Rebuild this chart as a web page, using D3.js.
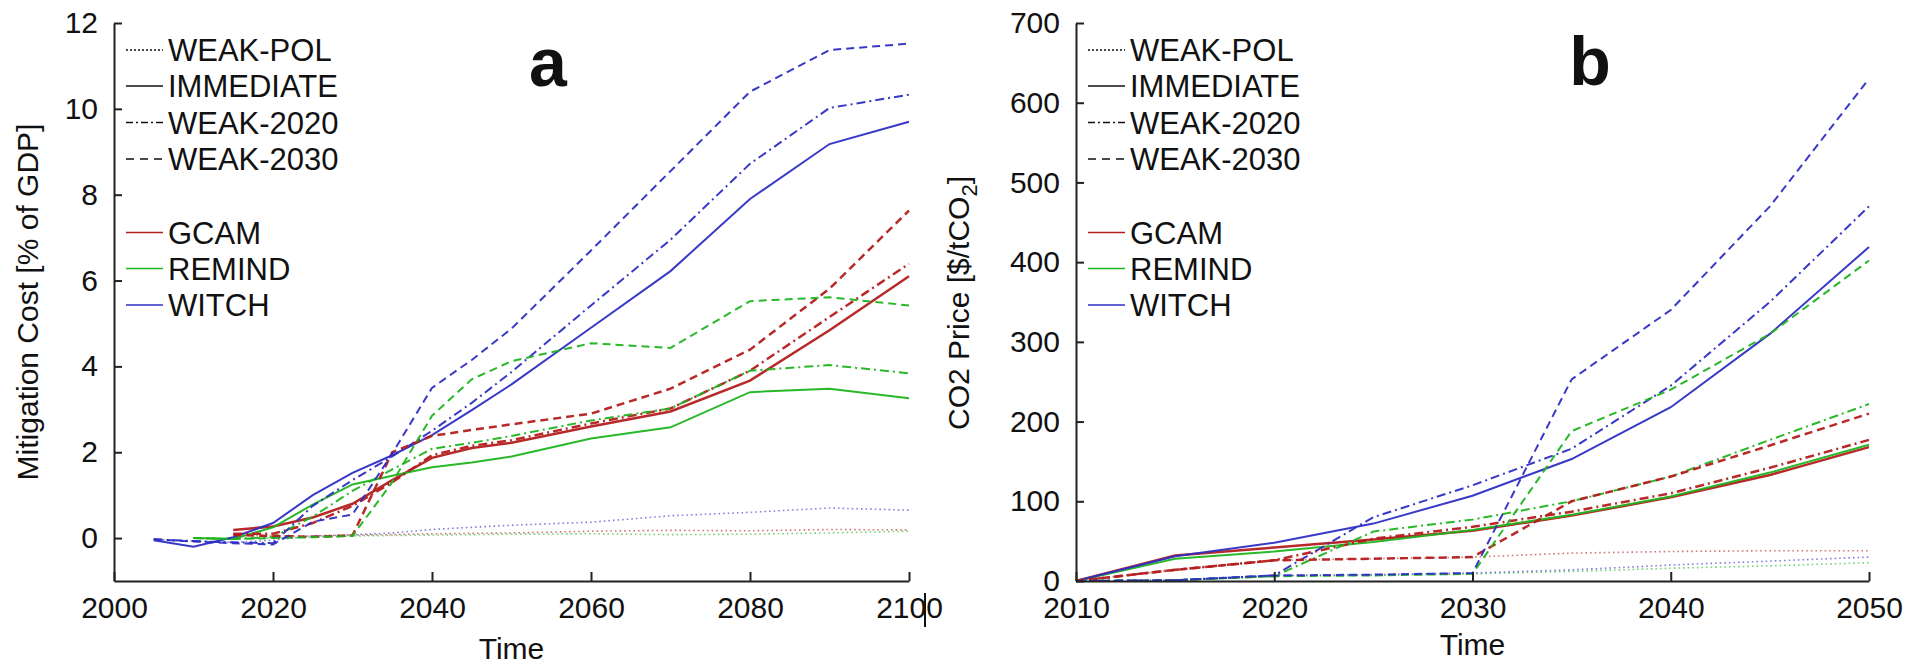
<!DOCTYPE html>
<html><head><meta charset="utf-8">
<script src="https://cdn.jsdelivr.net/npm/d3@7"></script>
<style>
body{margin:0;background:#fff}
svg{display:block}
text{font-family:"Liberation Sans",Arial,sans-serif;fill:#111}
</style>
</head><body>
<svg id="c" width="1907" height="666"></svg>
<script>
// ---------------- DATA ----------------
const models = ["GCAM", "REMIND", "WITCH"];
const scenarios = ["WEAK-POL", "IMMEDIATE", "WEAK-2020", "WEAK-2030"];

// Panel a: Mitigation cost [% of GDP]
const yearsA_WITCH  = [2005,2010,2015,2020,2025,2030,2035,2040,2045,2050,2060,2070,2080,2090,2100];
const yearsA_REMIND = [2010,2015,2020,2025,2030,2035,2040,2045,2050,2060,2070,2080,2090,2100];
const yearsA_GCAM   = [2015,2020,2025,2030,2035,2040,2045,2050,2060,2070,2080,2090,2100];

const costWITCH_WEAKPOL   = [-0.03,-0.07,-0.1,-0.05,0.05,0.08,0.12,0.2,0.25,0.3,0.37,0.52,0.6,0.7,0.65];
const costWITCH_IMMEDIATE = [-0.05,-0.2,0.02,0.35,1.0,1.52,1.93,2.4,2.98,3.58,4.9,6.22,7.9,9.18,9.7];
const costWITCH_WEAK2020  = [-0.03,-0.07,-0.1,-0.12,0.75,1.35,1.9,2.5,3.15,3.87,5.42,6.95,8.72,10.02,10.33];
const costWITCH_WEAK2030  = [-0.03,-0.08,-0.12,-0.15,0.38,0.55,1.97,3.5,4.15,4.88,6.7,8.55,10.4,11.37,11.52];

const costREMIND_WEAKPOL   = [0,-0.02,0.0,0.02,0.05,0.06,0.07,0.08,0.09,0.1,0.08,0.09,0.12,0.16];
const costREMIND_IMMEDIATE = [0,-0.02,0.25,0.78,1.25,1.45,1.65,1.76,1.9,2.32,2.58,3.4,3.48,3.26];
const costREMIND_WEAK2020  = [0,-0.02,0.02,0.5,1.1,1.6,2.08,2.22,2.38,2.74,3.02,3.9,4.03,3.84];
const costREMIND_WEAK2030  = [0,-0.02,0.0,0.02,0.05,1.3,2.85,3.7,4.12,4.54,4.43,5.52,5.61,5.42];

const costGCAM_WEAKPOL   = [0.07,0.05,0.05,0.07,0.08,0.1,0.11,0.12,0.16,0.18,0.17,0.2,0.19];
const costGCAM_IMMEDIATE = [0.19,0.27,0.48,0.8,1.35,1.87,2.1,2.22,2.6,2.95,3.67,4.84,6.1];
const costGCAM_WEAK2020  = [0.1,0.1,0.35,0.75,1.3,1.93,2.15,2.28,2.67,3.02,3.9,5.15,6.39];
const costGCAM_WEAK2030  = [0.07,0.05,0.03,0.06,2.0,2.38,2.52,2.65,2.9,3.48,4.39,5.81,7.63];

// Panel b: CO2 price [$/tCO2]
const yearsB = [2010,2015,2020,2025,2030,2035,2040,2045,2050];

const priceGCAM_WEAKPOL   = [0,14,26,28,30,35,37,38,38];
const priceGCAM_IMMEDIATE = [0,32,42,52,63,82,105,133,168];
const priceGCAM_WEAK2020  = [0,14,26,53,68,87,110,142,177];
const priceGCAM_WEAK2030  = [0,14,26,28,30,100,131,170,210];

const priceREMIND_WEAKPOL   = [0,1,6,7,9,12,16,19,23];
const priceREMIND_IMMEDIATE = [0,28,37,49,64,83,106,136,171];
const priceREMIND_WEAK2020  = [0,1,6,62,77,100,131,177,222];
const priceREMIND_WEAK2030  = [0,1,6,7,9,188,240,310,402];

const priceWITCH_WEAKPOL   = [0,1,7,8,10,14,20,25,30];
const priceWITCH_IMMEDIATE = [0,31,48,72,107,153,218,310,419];
const priceWITCH_WEAK2020  = [0,1,7,80,120,166,245,350,470];
const priceWITCH_WEAK2030  = [0,1,7,8,10,253,340,470,630];

// Ticks
const xTicksA = [2000,2020,2040,2060,2080,2100];
const yTicksA = [0,2,4,6,8,10,12];
const xTicksB = [2010,2020,2030,2040,2050];
const yTicksB = [0,100,200,300,400,500,600,700];

// ---------------- STYLE ----------------
const modelColor = {GCAM:"#b41e1e", REMIND:"#1eb41e", WITCH:"#2e2ec4"};
const dash = {"WEAK-POL":"1.6,3", "IMMEDIATE":null, "WEAK-2020":"9,4,2,4", "WEAK-2030":"8,5"};
const legendDash = {"WEAK-POL":"2,2", "IMMEDIATE":null, "WEAK-2020":"7,3,2,3", "WEAK-2030":"8,6"};

const seriesA = [
  {m:"GCAM", s:"WEAK-POL", yrs:yearsA_GCAM, v:costGCAM_WEAKPOL},
  {m:"REMIND", s:"WEAK-POL", yrs:yearsA_REMIND, v:costREMIND_WEAKPOL},
  {m:"WITCH", s:"WEAK-POL", yrs:yearsA_WITCH, v:costWITCH_WEAKPOL},
  {m:"GCAM", s:"IMMEDIATE", yrs:yearsA_GCAM, v:costGCAM_IMMEDIATE},
  {m:"REMIND", s:"IMMEDIATE", yrs:yearsA_REMIND, v:costREMIND_IMMEDIATE},
  {m:"WITCH", s:"IMMEDIATE", yrs:yearsA_WITCH, v:costWITCH_IMMEDIATE},
  {m:"GCAM", s:"WEAK-2020", yrs:yearsA_GCAM, v:costGCAM_WEAK2020},
  {m:"REMIND", s:"WEAK-2020", yrs:yearsA_REMIND, v:costREMIND_WEAK2020},
  {m:"WITCH", s:"WEAK-2020", yrs:yearsA_WITCH, v:costWITCH_WEAK2020},
  {m:"GCAM", s:"WEAK-2030", yrs:yearsA_GCAM, v:costGCAM_WEAK2030},
  {m:"REMIND", s:"WEAK-2030", yrs:yearsA_REMIND, v:costREMIND_WEAK2030},
  {m:"WITCH", s:"WEAK-2030", yrs:yearsA_WITCH, v:costWITCH_WEAK2030}
];
const seriesB = [
  {m:"GCAM", s:"WEAK-POL", yrs:yearsB, v:priceGCAM_WEAKPOL},
  {m:"REMIND", s:"WEAK-POL", yrs:yearsB, v:priceREMIND_WEAKPOL},
  {m:"WITCH", s:"WEAK-POL", yrs:yearsB, v:priceWITCH_WEAKPOL},
  {m:"GCAM", s:"IMMEDIATE", yrs:yearsB, v:priceGCAM_IMMEDIATE},
  {m:"REMIND", s:"IMMEDIATE", yrs:yearsB, v:priceREMIND_IMMEDIATE},
  {m:"WITCH", s:"IMMEDIATE", yrs:yearsB, v:priceWITCH_IMMEDIATE},
  {m:"GCAM", s:"WEAK-2020", yrs:yearsB, v:priceGCAM_WEAK2020},
  {m:"REMIND", s:"WEAK-2020", yrs:yearsB, v:priceREMIND_WEAK2020},
  {m:"WITCH", s:"WEAK-2020", yrs:yearsB, v:priceWITCH_WEAK2020},
  {m:"GCAM", s:"WEAK-2030", yrs:yearsB, v:priceGCAM_WEAK2030},
  {m:"REMIND", s:"WEAK-2030", yrs:yearsB, v:priceREMIND_WEAK2030},
  {m:"WITCH", s:"WEAK-2030", yrs:yearsB, v:priceWITCH_WEAK2030}
];

const svg = d3.select("#c");
const FONT = '"Liberation Sans", Arial, sans-serif';

function panel(cfg){
  const x = d3.scaleLinear().domain(cfg.xDom).range(cfg.xRange);
  const y = d3.scaleLinear().domain(cfg.yDom).range([581,23]);
  const g = svg.append("g");

  // lines
  const line = d3.line().x(d=>x(d[0])).y(d=>y(d[1]));
  cfg.series.forEach(sr=>{
    const pts = sr.yrs.map((yr,i)=>[yr, sr.v[i]]);
    g.append("path").datum(pts)
      .attr("d", line)
      .attr("fill","none")
      .attr("stroke", modelColor[sr.m])
      .attr("stroke-width", sr.s==="WEAK-POL" ? 1.6 : (sr.m==="GCAM" ? 2.5 : 2))
      .attr("stroke-opacity", sr.s==="WEAK-POL" ? 0.6 : 0.95)
      .attr("stroke-dasharray", dash[sr.s]);
  });

  // axes
  const ax = g.append("g").attr("transform","translate(0,581)")
    .call(d3.axisBottom(x).tickValues(cfg.xTicks).tickFormat(d3.format("d")).tickSize(-9).tickSizeOuter(0).tickPadding(16));
  const ay = g.append("g").attr("transform",`translate(${cfg.xRange[0]},0)`)
    .call(d3.axisLeft(y).tickValues(cfg.yTicks).tickFormat(d3.format("d")).tickSize(-8).tickSizeOuter(0).tickPadding(16));
  [ax,ay].forEach(a=>{
    a.attr("font-family", FONT).attr("font-size", 30);
    a.selectAll("path,line").attr("stroke","#222").attr("stroke-width",2);
    a.selectAll("text").attr("fill","#111");
  });

  // legend
  const lx0 = cfg.legX, lx1 = cfg.legX + 37, tx = cfg.legX + 42;
  const rows = [
    {t:"WEAK-POL", y:50, c:"#111", d:legendDash["WEAK-POL"]},
    {t:"IMMEDIATE", y:86, c:"#111", d:legendDash["IMMEDIATE"]},
    {t:"WEAK-2020", y:122.5, c:"#111", d:legendDash["WEAK-2020"]},
    {t:"WEAK-2030", y:159, c:"#111", d:legendDash["WEAK-2030"]},
    {t:"GCAM", y:232.5, c:modelColor.GCAM, d:null},
    {t:"REMIND", y:268.5, c:modelColor.REMIND, d:null},
    {t:"WITCH", y:305, c:modelColor.WITCH, d:null}
  ];
  rows.forEach(r=>{
    g.append("line").attr("x1",lx0).attr("x2",lx1).attr("y1",r.y).attr("y2",r.y)
      .attr("stroke",r.c).attr("stroke-width",1.6).attr("stroke-dasharray",r.d);
    g.append("text").attr("x",tx).attr("y",r.y+11).attr("font-size",31).text(r.t);
  });

  // panel letter
  g.append("text").attr("x",cfg.letter[0]).attr("y",cfg.letter[1])
    .attr("text-anchor","middle").attr("font-size",68).attr("font-weight","bold")
    .attr("fill","#000").text(cfg.letter[2]);

  // x label
  g.append("text").attr("x",(cfg.xRange[0]+cfg.xRange[1])/2).attr("y",cfg.xLabY)
    .attr("text-anchor","middle").attr("font-size",30).text("Time");
  return {x,y,g};
}

const A = panel({xDom:[2000,2100], xRange:[114,909], yDom:[-1,12], series:seriesA,
  xTicks:xTicksA, yTicks:yTicksA, legX:126, letter:[548,86,"a"], xLabY:659});
const B = panel({xDom:[2010,2050], xRange:[1076,1869], yDom:[0,700], series:seriesB,
  xTicks:xTicksB, yTicks:yTicksB, legX:1088, letter:[1590,85,"b"], xLabY:655});

// y labels
svg.append("text").attr("transform","translate(38,302) rotate(-90)")
  .attr("text-anchor","middle").attr("font-size",30).text("Mitigation Cost [% of GDP]");
const yl = svg.append("text").attr("transform","translate(969,303) rotate(-90)")
  .attr("text-anchor","middle").attr("font-size",30);
yl.append("tspan").text("CO2 Price [$/tCO");
yl.append("tspan").attr("dy",8).attr("font-size",22).text("2");
yl.append("tspan").attr("dy",-8).text("]");

// small cursor-like mark next to "2100"
svg.append("line").attr("x1",925).attr("x2",925).attr("y1",593).attr("y2",627)
  .attr("stroke","#111").attr("stroke-width",2);
</script>
</body></html>
